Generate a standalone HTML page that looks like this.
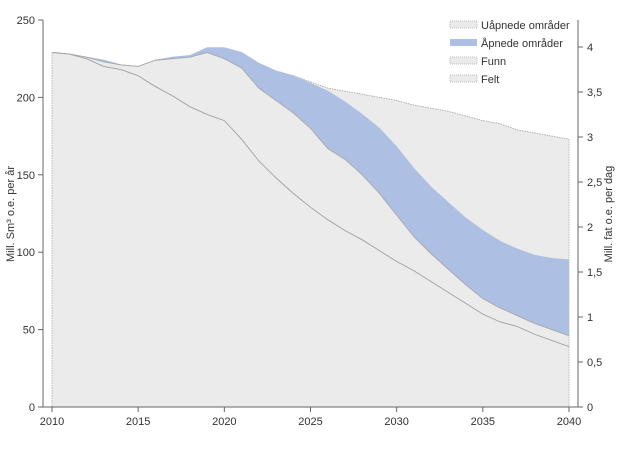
<!DOCTYPE html>
<html><head><meta charset="utf-8"><style>
body{margin:0;background:#fff;font-family:"Liberation Sans",sans-serif;}
text{font-family:"Liberation Sans",sans-serif;fill:#333;}
</style></head><body>
<svg width="620" height="447" viewBox="0 0 620 447" id="c">
</svg>
<script>
const years=[];for(let y=2010;y<=2040;y++)years.push(y);
const feltTop=[229,228,225,220,218,214,207,201,194,189,185,173,159,148,138,129,121,114,108,101,94,88,81,74,67,60,55,52,47,43,39];
const funnTop=[229,228,226,223,221,220,224,225,226,229,225,219,206,198,190,180,167,160,150,138,124,110,99,89,79,70,64,59,54,50,46];
const apnTop=[229,228,226,224,221,220,224,226,227,232,232,229,222,217,214,209,204,197,189,180,168,154,142,132,122,114,107,102,98,96,95];
const uapTop=[229,228,226,224,221,220,224,226,227,232,232,229,222,217,214,210,206,204,202,200,198,195,193,191,188,185,183,179,177,175,173];
const leftTicks=[0,50,100,150,200,250];
const rightTicks=["0","0,5","1","1,5","2","2,5","3","3,5","4"];
const xTicks=[2010,2015,2020,2025,2030,2035,2040];
const X=y=>52+(y-2010)*(569-52)/30, Y=v=>407-v*387/250, YR=v=>407-v*90;
const svg=document.getElementById('c'),NS='http://www.w3.org/2000/svg';
function mk(t,a,p){const e=document.createElementNS(NS,t);for(const k in a)e.setAttribute(k,a[k]);(p||svg).appendChild(e);return e;}
function area(top,bot,fill,stroke,dash,name){
 let d='M'+years.map((y,i)=>X(y)+','+Y(top[i])).join('L');
 for(let i=years.length-1;i>=0;i--)d+='L'+X(years[i])+','+(bot?Y(bot[i]):407);
 const e=mk('path',{d:d+'Z',fill:fill,stroke:'none'});
 
 const l=mk('path',{d:'M'+years.map((y,i)=>X(y)+','+Y(top[i])).join('L'),fill:'none',stroke:stroke,'stroke-width':0.9,'stroke-dasharray':dash||''});
 
}
area(uapTop,apnTop,'#ebebeb','#aaa','1.5,1','uapnede-area');
area(apnTop,funnTop,'#adc0e4','#adc0e4','','apnede-area');
area(funnTop,feltTop,'#ebebeb','#a8a8a8','','funn-area');
area(feltTop,null,'#ebebeb','#a0a0a0','','felt-area');
mk('line',{x1:X(2010),y1:Y(feltTop[0]),x2:X(2010),y2:407,stroke:'#bbb','stroke-dasharray':'1.5,1'});
mk('line',{x1:X(2040),y1:Y(uapTop[30]),x2:X(2040),y2:407,stroke:'#bbb','stroke-dasharray':'1.5,1'});
mk('line',{x1:43,y1:20,x2:43,y2:407,stroke:'#666'});
mk('line',{x1:43,y1:407,x2:578,y2:407,stroke:'#666'});
mk('line',{x1:578,y1:20,x2:578,y2:407,stroke:'#666'});
leftTicks.forEach(v=>{mk('line',{x1:38,y1:Y(v),x2:43,y2:Y(v),stroke:'#666'});
 const t=mk('text',{x:35,y:Y(v)+4,'text-anchor':'end','font-size':11});t.textContent=v;
 });
rightTicks.forEach((s,i)=>{const v=i*0.5;mk('line',{x1:578,y1:YR(v),x2:583,y2:YR(v),stroke:'#666'});
 const t=mk('text',{x:587,y:YR(v)+4,'font-size':11});t.textContent=s;
 });
xTicks.forEach(v=>{mk('line',{x1:X(v),y1:407,x2:X(v),y2:412,stroke:'#666'});
 const t=mk('text',{x:X(v),y:425,'text-anchor':'middle','font-size':11});t.textContent=v;
 });
</script>
<svg width="620" height="447" style="position:absolute;left:0;top:0">
<text x="14" y="214" transform="rotate(-90 14 214)" text-anchor="middle" font-size="11">Mill. Sm³ o.e. per år</text>
<text x="612" y="214" transform="rotate(-90 612 214)" text-anchor="middle" font-size="11">Mill. fat o.e. per dag</text>
<g font-size="11">
<rect x="450" y="21" width="27" height="7" fill="#ebebeb" stroke="#bbb" stroke-dasharray="1,1"/><text x="481" y="29">Uåpnede områder</text>
<rect x="450" y="39" width="27" height="7" fill="#adc0e4"/><text x="481" y="47">Åpnede områder</text>
<rect x="450" y="57" width="27" height="7" fill="#ebebeb" stroke="#bbb" stroke-dasharray="1,1"/><text x="481" y="65">Funn</text>
<rect x="450" y="75" width="27" height="7" fill="#ebebeb" stroke="#bbb" stroke-dasharray="1,1"/><text x="481" y="83">Felt</text>
</g>
</svg>
</body></html>
